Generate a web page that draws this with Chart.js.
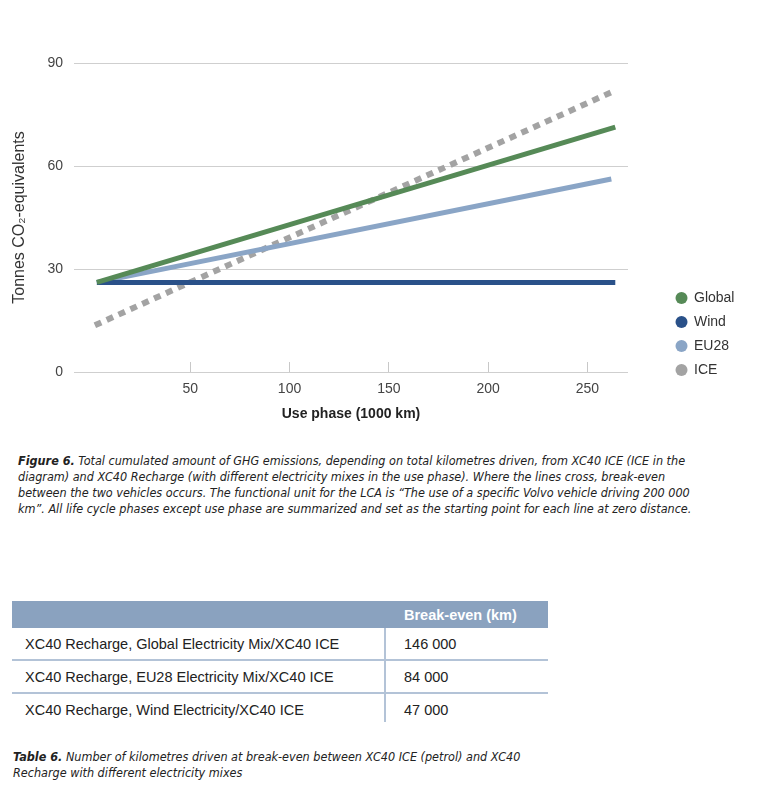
<!DOCTYPE html>
<html>
<head>
<meta charset="utf-8">
<script src="https://cdn.jsdelivr.net/npm/chart.js@4.4.1/dist/chart.umd.min.js"></script>
<style>
    body { margin: 0; background: #fff; font-family: "Liberation Sans", Arial, sans-serif; color: #222; }
    #page { position: relative; width: 760px; height: 794px; overflow: hidden; }
    #chartBox { position: absolute; left: 0; top: 0; width: 760px; height: 440px; }
    .cap { position: absolute; left: 18px; font-family: "Liberation Sans Narrow", "DejaVu Sans Condensed", sans-serif;
           font-style: italic; font-size: 12.5px; line-height: 16px; color: #222; white-space: nowrap; }
    .cap b { font-weight: bold; }
    #breakTable { position: absolute; left: 12px; top: 601px; width: 536px; border-collapse: collapse; font-size: 14.5px; color: #222; }
    #breakTable th { background: #8aa2bf; color: #fff; font-weight: bold; height: 27px; padding: 0; text-align: left; }
    #breakTable th.num { padding-left: 19px; }
    #breakTable td { height: 31px; padding: 0 0 0 13px; border-bottom: 2px solid #b3c3d7; }
    #breakTable tr:last-child td { border-bottom: none; height: 24px; padding-top: 4px; }
    #breakTable td.num { border-left: 2px solid #b3c3d7; padding-left: 18px; }
</style>
</head>
<body>
<div id="page">
    <div id="chartBox"><canvas id="co2Chart"></canvas></div>

    <div class="cap" style="top:453px"><b>Figure 6.</b> Total cumulated amount of GHG emissions, depending on total kilometres driven, from XC40 ICE (ICE in the<br>diagram) and XC40 Recharge (with different electricity mixes in the use phase). Where the lines cross, break-even<br>between the two vehicles occurs. The functional unit for the LCA is “The use of a specific Volvo vehicle driving 200 000<br>km”. All life cycle phases except use phase are summarized and set as the starting point for each line at zero distance.</div>

    <table id="breakTable"></table>

    <div class="cap" style="top:749px;left:13px"><b>Table 6.</b> Number of kilometres driven at break-even between XC40 ICE (petrol) and XC40<br>Recharge with different electricity mixes</div>
</div>

<script>
// Chart data (use phase in 1000 km, tonnes CO2-eq)
const seriesNames = ['Global', 'Wind', 'EU28', 'ICE'];
const seriesColors = ['#568a57', '#2a5189', '#8aa5c6', '#a3a3a3'];
const startKm = [3, 3, 3, 2];
const endKm = [264, 264, 262, 264];
const startCO2 = [26.1, 26.1, 26.1, 13.6];
const endCO2 = [71.3, 26.1, 56.2, 82.0];
const xTicks = [50, 100, 150, 200, 250];
const yTicks = [0, 30, 60, 90];

// Table data
const tableHeader = 'Break-even (km)';
const tableRows = [
    'XC40 Recharge, Global Electricity Mix/XC40 ICE',
    'XC40 Recharge, EU28 Electricity Mix/XC40 ICE',
    'XC40 Recharge, Wind Electricity/XC40 ICE'
];
const breakEvenKm = ['146 000', '84 000', '47 000'];

function buildTable() {
    const table = document.getElementById('breakTable');
    let html = '<tr><th style="width:373px"></th><th class="num">' + tableHeader + '</th></tr>';
    tableRows.forEach((row, i) => {
        html += '<tr><td>' + row + '</td><td class="num">' + breakEvenKm[i] + '</td></tr>';
    });
    table.innerHTML = html;
}

// keeps the legend to the right of the plot, lower down
const legendPlace = {
    id: 'legendPlace',
    beforeLayout(chart) {
        const lg = chart.legend;
        if (lg && !lg._patched) {
            const fit = lg.fit;
            lg.fit = function () {
                fit.call(this);
                this.width = 132;
            };
            lg._patched = true;
        }
    },
    afterLayout(chart) {
        const lg = chart.legend;
        if (!lg) return;
        const pad = lg.options.labels.padding;
        lg.left = 676 - pad;
        lg.right = lg.left + 132;
        lg.top = 298 - 7 - pad;
        lg.bottom = lg.top + 200;
    }
};

function initChart() {
    const ctx = document.getElementById('co2Chart');
    const datasets = seriesNames.map((name, i) => ({
        label: name,
        data: [
            { x: startKm[i], y: startCO2[i] },
            { x: endKm[i], y: endCO2[i] }
        ],
        borderColor: seriesColors[i],
        backgroundColor: seriesColors[i],
        borderWidth: name === 'ICE' ? 6 : 5,
        borderDash: name === 'ICE' ? [7, 6] : [],
        borderCapStyle: 'butt',
        pointRadius: 0,
        tension: 0
    }));

    return new Chart(ctx, {
        type: 'line',
        data: { datasets },
        plugins: [legendPlace],
        options: {
            responsive: true,
            maintainAspectRatio: false,
            animation: false,
            layout: { padding: { top: 63, bottom: 16, left: 0, right: 0 } },
            plugins: {
                legend: {
                    position: 'right',
                    align: 'start',
                    fullSize: false,
                    labels: {
                        usePointStyle: true,
                        pointStyle: 'circle',
                        boxWidth: 11,
                        boxHeight: 8.5,
                        padding: 10,
                        color: '#333',
                        font: { family: 'Liberation Sans', size: 14 },
                        generateLabels(chart) {
                            const items = Chart.defaults.plugins.legend.labels.generateLabels(chart);
                            items.forEach(item => {
                                item.fillStyle = item.strokeStyle;
                                item.lineWidth = 0;
                                item.lineDash = [];
                            });
                            return items;
                        }
                    }
                },
                tooltip: { enabled: false }
            },
            scales: {
                x: {
                    type: 'linear',
                    min: -8.5,
                    max: 270.4,
                    afterBuildTicks: scale => { scale.ticks = xTicks.map(v => ({ value: v })); },
                    afterFit: scale => { scale.height = 52; },
                    border: { display: false },
                    grid: {
                        drawOnChartArea: false,
                        drawTicks: true,
                        tickLength: -10,
                        color: '#c8c8c8',
                        lineWidth: 1
                    },
                    ticks: {
                        padding: 19,
                        color: '#444',
                        maxRotation: 0,
                        font: { family: 'Liberation Sans', size: 14 }
                    },
                    title: {
                        display: true,
                        text: 'Use phase (1000 km)',
                        color: '#222',
                        padding: { top: 0, bottom: 1 },
                        font: { family: 'Liberation Sans', size: 14, weight: 'bold' }
                    }
                },
                y: {
                    type: 'linear',
                    min: 0,
                    max: 90,
                    afterBuildTicks: scale => { scale.ticks = yTicks.map(v => ({ value: v })); },
                    afterFit: scale => { scale.width = 74; },
                    border: { display: false },
                    grid: {
                        drawTicks: false,
                        color: '#cfcfcf',
                        lineWidth: 1
                    },
                    ticks: {
                        padding: 11,
                        color: '#444',
                        font: { family: 'Liberation Sans', size: 14 }
                    },
                    title: {
                        display: true,
                        text: 'Tonnes CO₂-equivalents',
                        color: '#333',
                        padding: { top: 10, bottom: 0 },
                        font: { family: 'Liberation Sans', size: 16 }
                    }
                }
            }
        }
    });
}

buildTable();
initChart();
</script>
</body>
</html>
